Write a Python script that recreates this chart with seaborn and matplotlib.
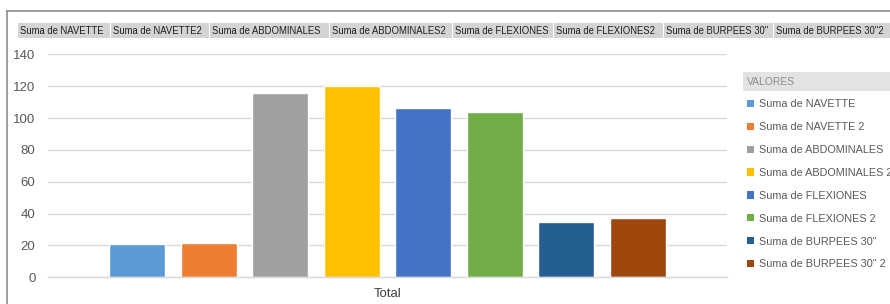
import matplotlib
matplotlib.use("Agg")
import matplotlib.pyplot as plt
from matplotlib.patches import Rectangle
from matplotlib.lines import Line2D
import seaborn as sns
import pandas as pd

# ---- data ----
categories = ["Total"]
series = ["Suma de NAVETTE", "Suma de NAVETTE 2", "Suma de ABDOMINALES",
          "Suma de ABDOMINALES 2", "Suma de FLEXIONES", "Suma de FLEXIONES 2",
          'Suma de BURPEES 30"', 'Suma de BURPEES 30" 2']
values = [20.8, 21.6, 116, 120, 106.5, 103.5, 34.5, 37]
header_labels = ["Suma de NAVETTE", "Suma de NAVETTE2", "Suma de ABDOMINALES",
                 "Suma de ABDOMINALES2", "Suma de FLEXIONES", "Suma de FLEXIONES2",
                 'Suma de BURPEES 30"', 'Suma de BURPEES 30"2']
yticks = [0, 20, 40, 60, 80, 100, 120, 140]
legend_title = "VALORES"
colors = ["#5B9BD5", "#ED7D31", "#A0A0A0", "#FFC000",
          "#4472C4", "#70AD47", "#255E91", "#9E480E"]

df = pd.DataFrame({"cat": categories * len(series), "serie": series, "val": values})

sns.set_style("white")
plt.rcParams["font.family"] = ["Liberation Sans", "DejaVu Sans"]

W, H = 890, 304
fig = plt.figure(figsize=(W / 100, H / 100), dpi=100)

def fx(px):
    return px / W

def fy(py):
    return 1 - py / H

ax = fig.add_axes([fx(48), fy(277.3), fx(727 - 48), (277.3 - 54.3) / H])
sns.barplot(data=df, x="cat", y="val", hue="serie", hue_order=series,
            palette=colors, width=0.8, gap=0.22, saturation=1, ax=ax, legend=False)
ax.set_ylim(0, 140)
ax.set_xlim(-0.475, 0.475)
ax.set_yticks(yticks)
ax.yaxis.grid(True, color="#D9D9D9", linewidth=1)
ax.set_axisbelow(True)
for s in ["top", "right", "left"]:
    ax.spines[s].set_visible(False)
ax.spines["bottom"].set_color("#D9D9D9")
ax.spines["bottom"].set_linewidth(1)
ax.set_xlabel("")
ax.set_ylabel("")
ax.tick_params(axis="y", length=0, pad=9, labelsize=9.5, labelcolor="#595959")
ax.tick_params(axis="x", length=0, pad=8, labelsize=9.5, labelcolor="#404040")

# outer frame
fig.add_artist(Line2D([fx(7), 1], [fy(11), fy(11)], color="#8C8C8C", lw=1.2))
fig.add_artist(Line2D([fx(7), fx(7)], [fy(11), 0], color="#8C8C8C", lw=1.2))

# header field buttons
boxes = [(18, 110), (111, 209), (210, 329), (330, 452), (453, 553),
         (554, 663), (664, 773), (774, 890)]
for (x0, x1), lab in zip(boxes, header_labels):
    fig.add_artist(Rectangle((fx(x0), fy(38)), fx(x1 - x0), (38 - 23) / H,
                             facecolor="#D4D4D4", edgecolor="none"))
    fig.text(fx(x0 + 2), fy(30.5), lab, fontsize=6.85, color="#1F1F1F",
             va="center", ha="left")

# legend
fig.add_artist(Rectangle((fx(743), fy(91)), fx(890 - 743), (91 - 72) / H,
                         facecolor="#E3E3E3", edgecolor="none"))
fig.text(fx(747), fy(82), legend_title, fontsize=7.5, color="#8C8C8C",
         va="center", ha="left")
handles = [Rectangle((0, 0), 1, 1, facecolor=c, edgecolor="none") for c in colors]
leg = fig.legend(handles, series, loc="upper left",
                 bbox_to_anchor=(fx(745), fy(97)), frameon=False,
                 fontsize=7.8, handlelength=0.65, handleheight=0.65,
                 handletextpad=0.45, labelspacing=1.19, borderaxespad=0,
                 borderpad=0.2)
for t in leg.get_texts():
    t.set_color("#595959")

fig.savefig("out.png", dpi=100)
